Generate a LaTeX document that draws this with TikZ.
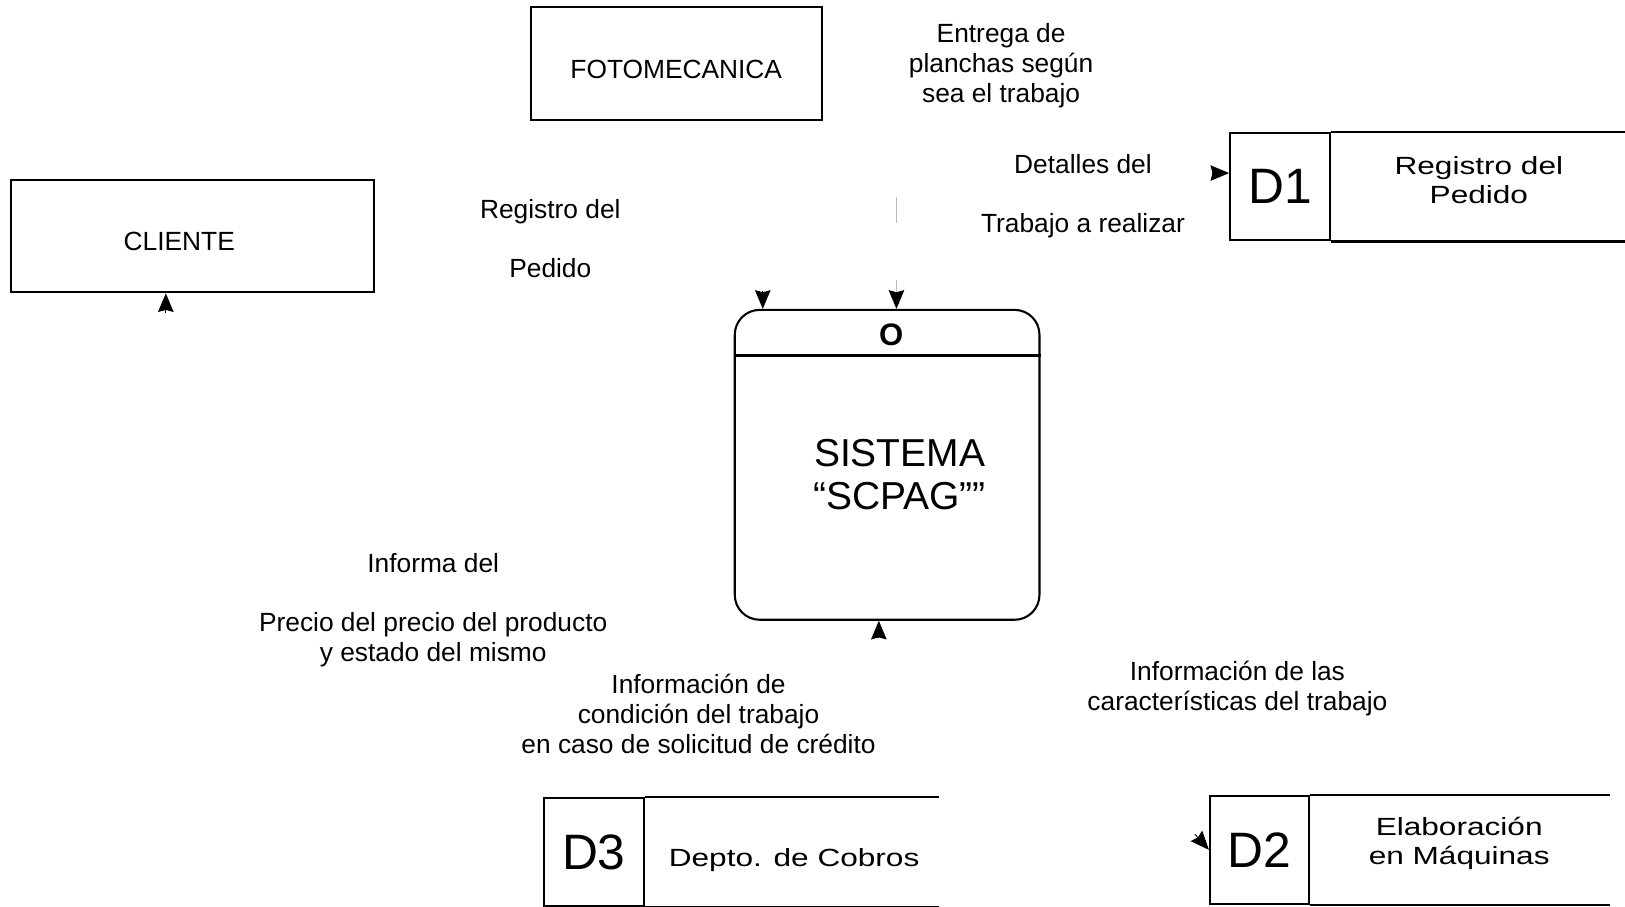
\documentclass[tikz,border=0pt]{standalone}
\usepackage{fontspec}
\setmainfont{Liberation Sans}
\newfontfamily\storefont[FakeStretch=1.27]{Liberation Sans}
\usetikzlibrary{arrows.meta}

\begin{document}
\begin{tikzpicture}
[
    x=0.5pt, y=-0.5pt,
    every node/.style={font=\fontsize{12.7}{14.5}\selectfont, inner sep=0pt},
    entity/.style={draw, line width=1pt, minimum width=175pt, minimum height=54pt, text height=14pt, text depth=0pt},
    proc/.style={draw, line width=1pt, rounded corners=12pt, minimum width=147pt, minimum height=149.5pt},
    storeid/.style={draw, line width=1pt, minimum width=48pt, minimum height=52pt, font=\fontsize{24}{28}\selectfont},
    storetxt/.style={align=center, font=\storefont\fontsize{12}{14}\selectfont},
    flowlbl/.style={align=center},
    boxline/.style={line width=1pt},
    flow/.style={-{Stealth[length=9pt, width=7.5pt, inset=1pt]}},
    faintflow/.style={gray!55, line width=0.3pt, dash pattern=on 12.5pt off 27.5pt,
        -{Stealth[length=9pt, width=7.5pt, inset=1pt, color=black]}},
]
\useasboundingbox (0,0) rectangle (1568,875);

\node [entity, minimum width=140.5pt, minimum height=54.5pt] (foto) at (652.5,61.5) {FOTOMECANICA};
\node [entity] (cli) at (186,228) {\hspace*{-13pt}CLIENTE};

\node [proc] (sys) at (856,448.5) {};
\coordinate (hdr) at (0,343);
\draw [boxline] (sys.west |- hdr) -- (sys.east |- hdr);
\node [font=\fontsize{15}{17}\bfseries\selectfont] (sysid) at (860,323) {O};
\node [align=center, font=\fontsize{18.8}{20.5}\selectfont] (sysname) at (868,458) {SISTEMA\\“SCPAG””};

\node [storeid] (d1) at (1235,180) {D1};
\node [storetxt] (d1t) at (1427,174) {Registro del\\Pedido};
\draw [boxline] (d1.north east) -- ++(285,0);
\draw [boxline] (d1.south east) -- ++(285,0);

\node [storeid] (d2) at (1215.5,820) {D2};
\node [storetxt] (d2t) at (1408,814) {Elaboración\\en Máquinas};
\draw [boxline] (d2.north east) -- ++(289,0);
\draw [boxline] (d2.south east) -- ++(289,0);

\node [storeid] (d3) at (573,822) {D3};
\node [storetxt, anchor=west] (d3t) at (645,830) {Depto. de Cobros};
\draw [boxline] (d3.north east) -- ++(284,0);
\draw [boxline] (d3.south east) -- ++(284,0);

\node [flowlbl] (l1) at (966,63) {Entrega de\\planchas según\\sea el trabajo};
\node [flowlbl] (l2) at (1045,189) {Detalles del\\[14pt]Trabajo a realizar};
\node [flowlbl] (l3) at (531,230) {Registro del\\[14pt]Pedido};
\node [flowlbl] (l4) at (418,589) {Informa del\\[14pt]Precio del precio del producto\\y estado del mismo};
\node [flowlbl] (l5) at (674,689) {Información de\\condición del trabajo\\en caso de solicitud de crédito};
\node [flowlbl] (l6) at (1194,664) {Información de las\\características del trabajo};

\coordinate (a1) at (160,302);
\draw [flow] (a1) -- (a1 |- cli.south);
\coordinate (a2) at (736,281);
\draw [flow] (a2) -- (a2 |- sys.north);
\coordinate (a3) at (865,190);
\draw [faintflow] (a3) -- (a3 |- sys.north);
\coordinate (a4) at (848,616);
\draw [flow] (a4) -- (a4 |- sys.south);
\coordinate (a5) at (1169,167);
\draw [flow] (a5) -- (a5 -| d1.west);
\coordinate (a6) at (1153,805);
\draw [flow] (a6) -- (d2.west);
\end{tikzpicture}
\end{document}
